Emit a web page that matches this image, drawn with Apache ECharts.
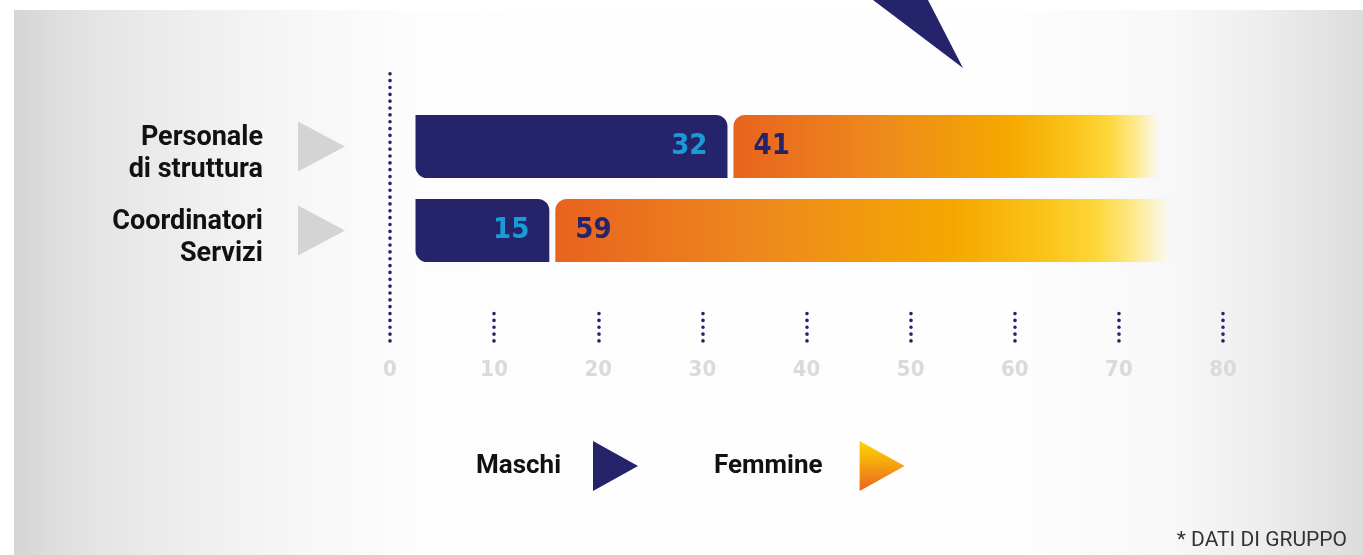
<!DOCTYPE html>
<html>
<head>
<meta charset="utf-8">
<script src="https://cdn.jsdelivr.net/npm/echarts@6/dist/echarts.min.js"></script>
<style>
html,body{margin:0;padding:0;background:#fff;}
#box{width:1363px;height:555px;}
</style>
</head>
<body>
<div id="box"></div>
<script>
// dati
const categorie = ['Personale\ndi struttura', 'Coordinatori\nServizi'];
const maschi = [32, 15];
const femmine = [41, 59];
const tickValori = [10, 20, 30, 40, 50, 60, 70, 80];

const navy = '#25246b';
const narrow = '"Liberation Sans Narrow", "DejaVu Sans Condensed", sans-serif';

const gradFemmine = new echarts.graphic.LinearGradient(0, 0, 1, 0, [
  {offset: 0, color: '#e8621f'},
  {offset: 0.35, color: '#ee8a1c'},
  {offset: 0.65, color: '#f5a800'},
  {offset: 0.8, color: '#fbc41a'},
  {offset: 0.88, color: '#fdd73a'},
  {offset: 0.94, color: '#fde98a'},
  {offset: 1, color: 'rgba(250,250,245,0.9)'}
]);
// bordo che imita lo sfondo (crea lo stacco tra le barre)
const bordoFemmine = new echarts.graphic.LinearGradient(0, 0, 1, 0, [
  {offset: 0, color: '#fdfdfd'},
  {offset: 0.7, color: '#fcfcfc'},
  {offset: 1, color: '#f7f7f7'}
]);
const gradLegenda = new echarts.graphic.LinearGradient(0, 0, 0, 1, [
  {offset: 0, color: '#fed800'},
  {offset: 0.5, color: '#f4a010'},
  {offset: 1, color: '#e8621f'}
]);

let myeCharts = echarts.init(document.getElementById('box'));

const option = {
  animation: false,
  title: {
    text: '* DATI DI GRUPPO',
    right: 16,
    bottom: 4,
    padding: 0,
    textStyle: {fontSize: 21, fontWeight: 'normal', color: '#333', fontFamily: 'Roboto'}
  },
  legend: {
    left: 476,
    top: 441,
    padding: 0,
    itemWidth: 45,
    itemHeight: 50,
    itemGap: 76,
    align: 'right',
    selectedMode: false,
    icon: 'path://M0,0L45,25L0,50Z',
    textStyle: {fontSize: 26, fontWeight: 'bold', color: '#111', fontFamily: 'Roboto', padding: [0, 27, 0, 0]},
    data: [
      {name: 'Maschi', itemStyle: {color: navy, borderWidth: 0}},
      {name: 'Femmine', itemStyle: {color: gradLegenda, borderWidth: 0},
        textStyle: {padding: [0, 32, 0, 0]}}
    ]
  },
  grid: [
    // asse con le tacche
    {left: 390, right: 140, top: 70, bottom: 214},
    // barre
    {left: 414, right: 140, top: 104.5, bottom: 282.5}
  ],
  xAxis: [
    {
      gridIndex: 0,
      type: 'value',
      min: 0,
      max: 80,
      interval: 10,
      axisLine: {show: false},
      splitLine: {show: false},
      axisTick: {
        show: true,
        inside: true,
        length: 29,
        customValues: tickValori,
        lineStyle: {color: navy, width: 3.6, type: [0.1, 6.75], cap: 'round'}
      },
      axisLabel: {
        margin: 18,
        color: '#dadada',
        fontSize: 22,
        fontWeight: 'bold',
        fontFamily: narrow
      }
    },
    {
      gridIndex: 1,
      type: 'value',
      min: 1.8,
      max: 79,
      show: false
    }
  ],
  yAxis: [
    {
      gridIndex: 0,
      type: 'value',
      axisLine: {
        show: true,
        lineStyle: {color: navy, width: 3.6, type: [0.1, 6.75], cap: 'round'}
      },
      axisTick: {show: false},
      axisLabel: {show: false},
      splitLine: {show: false}
    },
    {
      gridIndex: 1,
      type: 'category',
      inverse: true,
      data: categorie,
      axisLine: {show: false},
      axisTick: {show: false},
      axisLabel: {
        interval: 0,
        margin: 151,
        align: 'right',
        formatter: function (v) {
          // riga vuota in alto per abbassare leggermente il testo
          return '{s| }\n' + v.split('\n').map(function (r) { return '{a|' + r + '}'; }).join('\n');
        },
        rich: {
          s: {fontSize: 1, lineHeight: 15},
          a: {fontSize: 27, lineHeight: 32, fontWeight: 'bold', color: '#111', fontFamily: 'Roboto', align: 'right'}
        }
      }
    }
  ],
  series: [
    {
      name: 'Maschi',
      type: 'bar',
      xAxisIndex: 1,
      yAxisIndex: 1,
      stack: 'tot',
      barWidth: 69,
      data: maschi,
      itemStyle: {color: navy, borderColor: '#fcfcfc', borderWidth: 3, borderRadius: [0, 13, 0, 13]},
      label: {
        show: true,
        position: 'insideRight',
        distance: 23,
        color: '#1b9ad7',
        fontSize: 29,
        fontWeight: 'bold',
        fontFamily: narrow
      }
    },
    {
      name: 'Femmine',
      type: 'bar',
      xAxisIndex: 1,
      yAxisIndex: 1,
      stack: 'tot',
      barWidth: 69,
      data: femmine,
      itemStyle: {color: gradFemmine, borderColor: bordoFemmine, borderWidth: 3, borderRadius: [13, 0, 0, 0]},
      label: {
        show: true,
        position: 'insideLeft',
        distance: 23,
        color: navy,
        fontSize: 29,
        fontWeight: 'bold',
        fontFamily: narrow
      }
    }
  ]
};
myeCharts.setOption(option);

// sfondo, triangolo in alto e frecce grigie accanto alle categorie
const frecce = categorie.map(function (c, i) {
  const cy = myeCharts.convertToPixel({yAxisIndex: 1}, i);
  return {
    type: 'polygon',
    silent: true,
    shape: {points: [[298, cy - 25], [345, cy], [298, cy + 25]]},
    style: {fill: '#d4d4d4'}
  };
});
myeCharts.setOption({
  graphic: [
    {
      type: 'rect',
      silent: true,
      z: -10,
      shape: {x: 14, y: 10, width: 1349, height: 545},
      style: {
        fill: new echarts.graphic.LinearGradient(0, 0, 1, 0, [
          {offset: 0, color: '#d5d5d5'},
          {offset: 0.027, color: '#dddddd'},
          {offset: 0.064, color: '#e5e5e5'},
          {offset: 0.138, color: '#efefef'},
          {offset: 0.212, color: '#f7f7f7'},
          {offset: 0.3, color: '#fdfdfd'},
          {offset: 0.73, color: '#fefefe'},
          {offset: 0.857, color: '#f8f8f8'},
          {offset: 0.923, color: '#eeeeee'},
          {offset: 1, color: '#dcdcdc'}
        ])
      }
    },
    {
      type: 'polygon',
      silent: true,
      shape: {points: [[873, 0], [928, 0], [963, 68]]},
      style: {fill: navy}
    }
  ].concat(frecce)
});

window.onresize = function () {
  myeCharts.resize();
};
</script>
</body>
</html>
